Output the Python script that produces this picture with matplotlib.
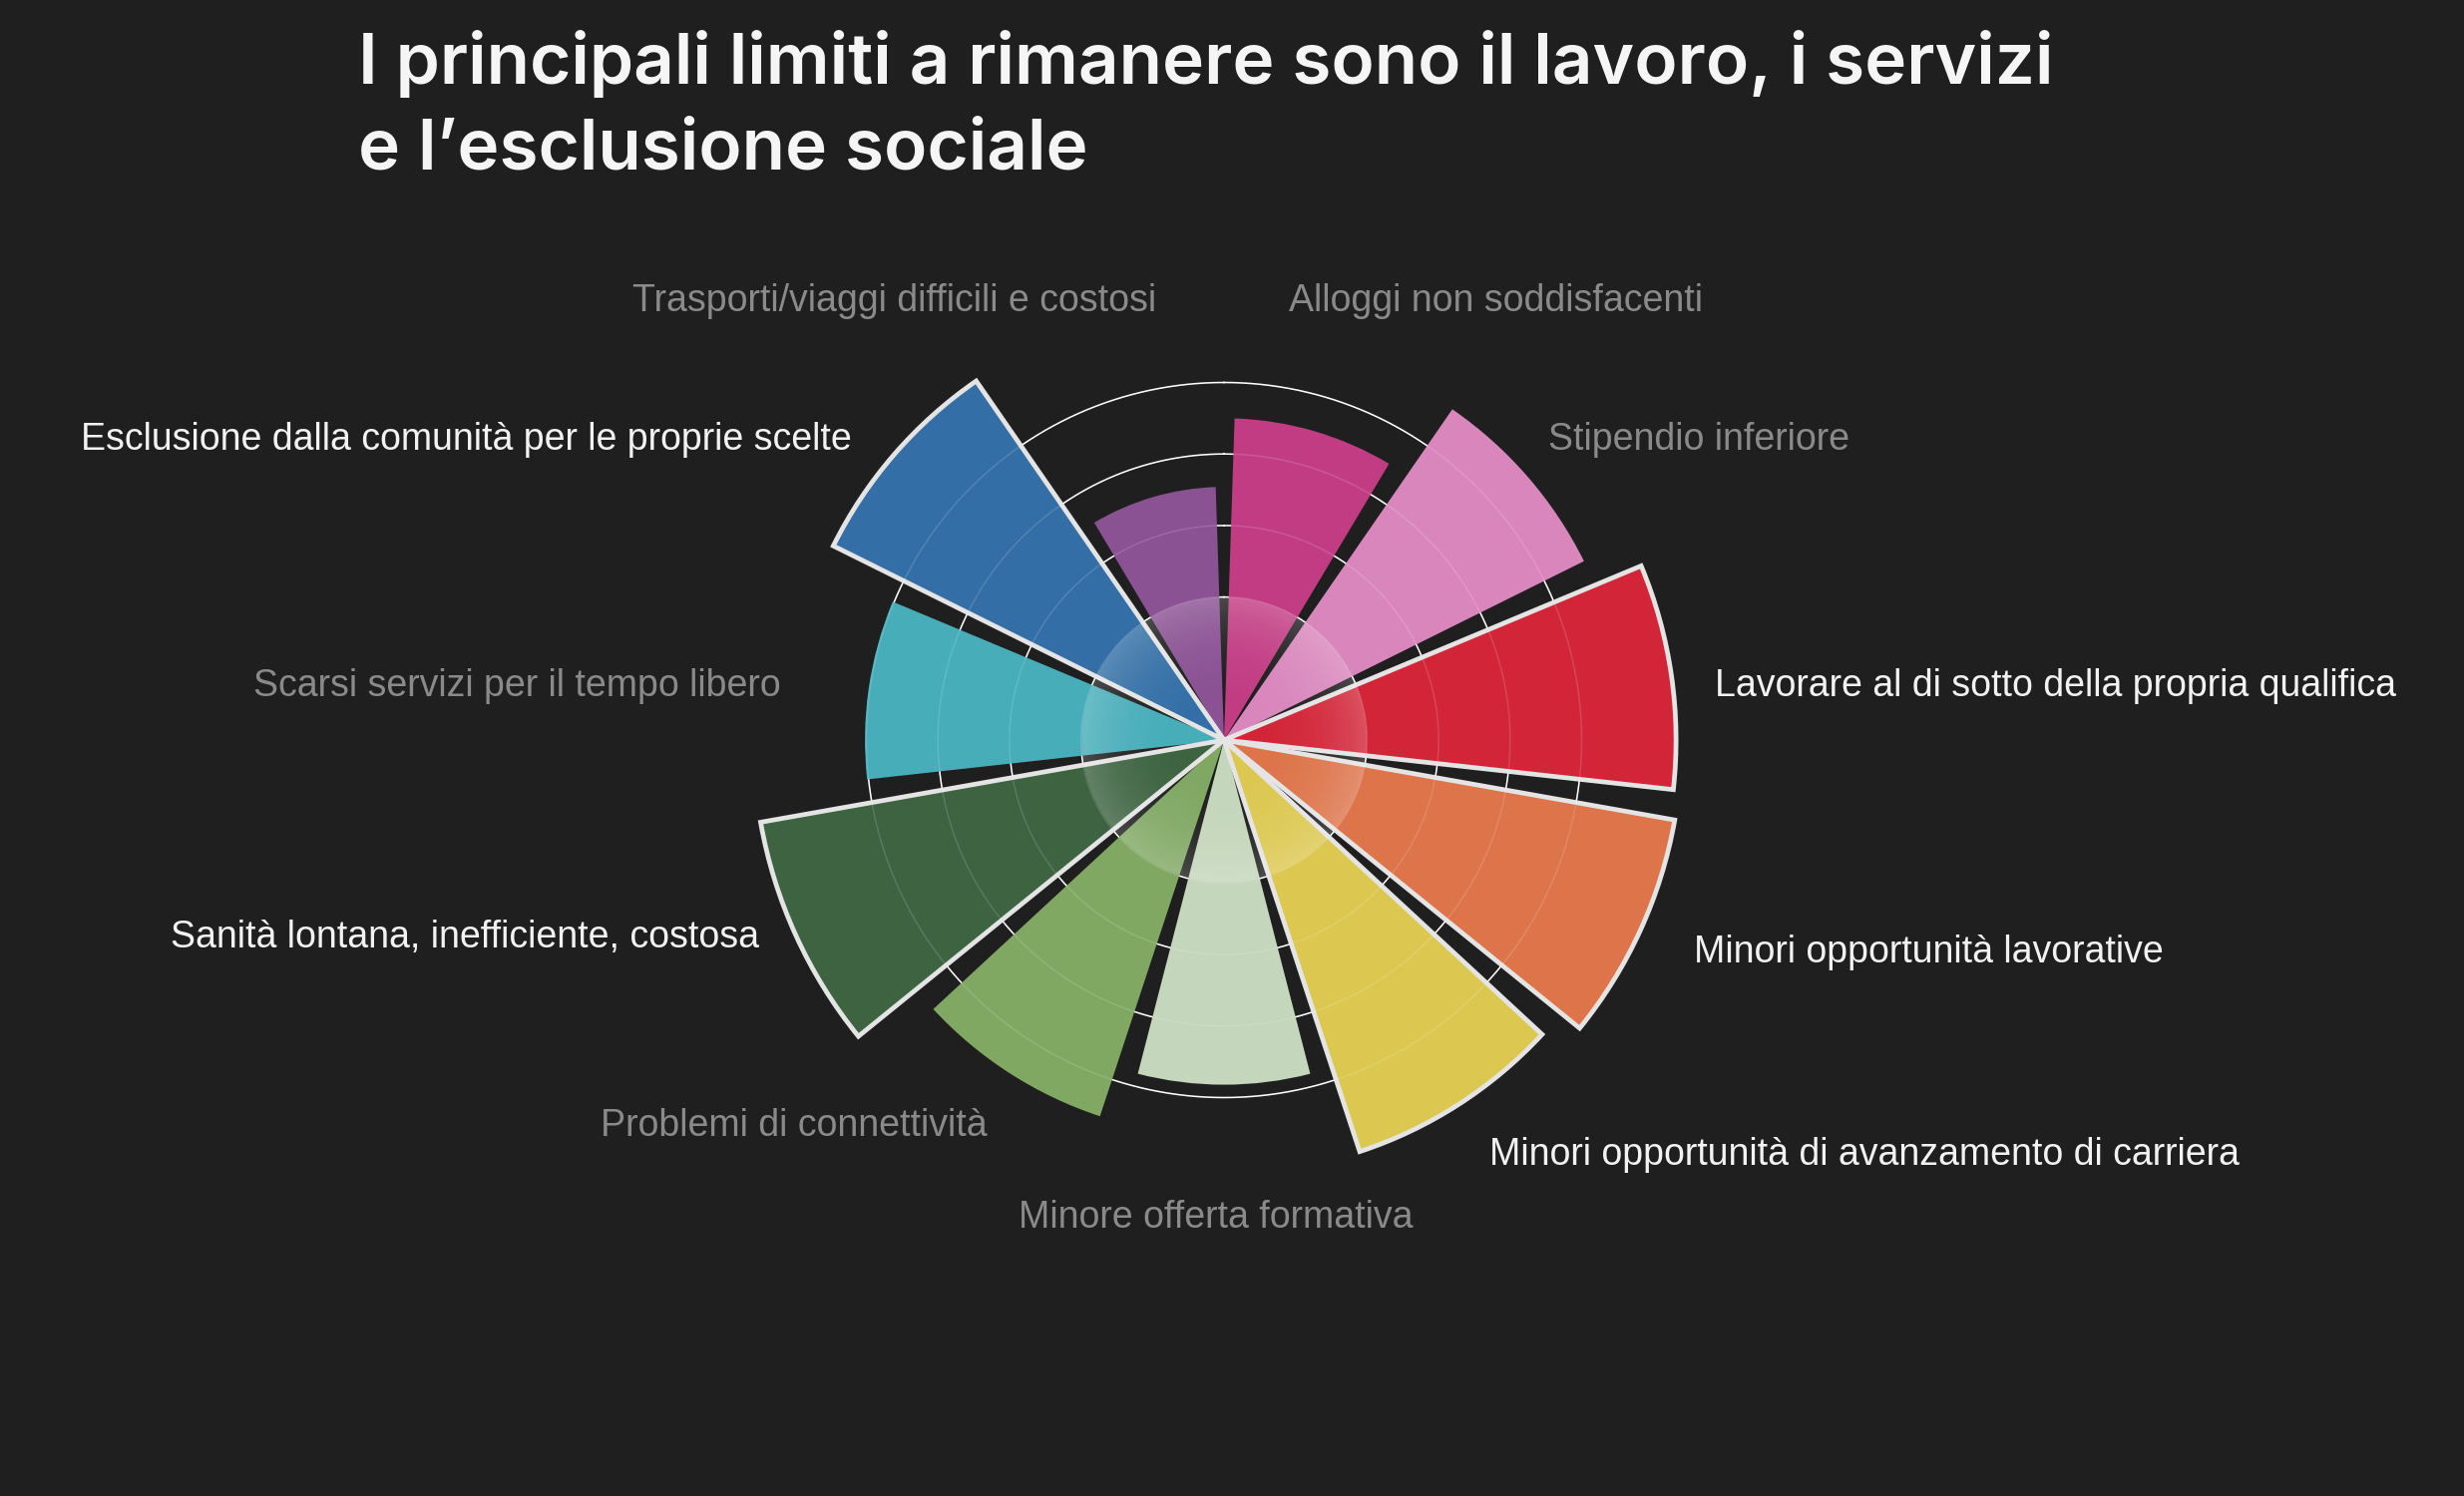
import numpy as np
import matplotlib
matplotlib.use("Agg")
import matplotlib.pyplot as plt
from matplotlib.patches import Circle

# ---------------- data ----------------
categories = [
    "Alloggi non soddisfacenti",
    "Stipendio inferiore",
    "Lavorare al di sotto della propria qualifica",
    "Minori opportunità lavorative",
    "Minori opportunità di avanzamento di carriera",
    "Minore offerta formativa",
    "Problemi di connettività",
    "Sanità lontana, inefficiente, costosa",
    "Scarsi servizi per il tempo libero",
    "Esclusione dalla comunità per le proprie scelte",
    "Trasporti/viaggi difficili e costosi",
]
values = [22.5, 28.1, 31.6, 32.0, 30.3, 24.1, 27.7, 32.9, 25.1, 30.5, 17.7]
highlighted = [False, False, True, True, True, False, False, True, False, True, False]
colors = ["#c23c84", "#d986bd", "#d22638", "#dd744a", "#dcc850", "#c4d6bb",
          "#80a863", "#3d6341", "#46adb9", "#336fa6", "#8a5193"]
grid_values = [10, 15, 20, 25]
title_lines = ["I principali limiti a rimanere sono il lavoro, i servizi",
               "e l\u2019esclusione sociale"]

# ---------------- layout ----------------
W, H = 2470, 1500
BG = "#1f1f1f"
fig = plt.figure(figsize=(W / 100, H / 100), dpi=100, facecolor=BG)

cx, cy = 1227, 742          # centre in pixels (from top-left)
rmax = 40.0
unit_px = 71.7 / 5.0        # pixels per value unit
R = rmax * unit_px
rect = [(cx - R) / W, (H - cy - R) / H, 2 * R / W, 2 * R / H]

ax = fig.add_axes(rect, projection="polar")
ax.set_facecolor("none")
ax.set_theta_zero_location("N")
ax.set_theta_direction(-1)
ax.set_ylim(0, rmax)
ax.grid(False)
ax.set_xticks([])
ax.set_yticks([])
ax.spines["polar"].set_visible(False)

n = len(values)
step = 2 * np.pi / n
thetas = (np.arange(n) + 0.5) * step
width = step * 0.885

# grid circles under bars
tt = np.linspace(0, 2 * np.pi, 721)
for g in grid_values:
    ax.plot(tt, np.full_like(tt, g), color="white", lw=1.1, zorder=1)

# plain bars
for th, v, c, h in zip(thetas, values, colors, highlighted):
    if not h:
        ax.bar(th, v, width=width, bottom=0, color=c, edgecolor="none", zorder=2)
# highlighted bars
for th, v, c, h in zip(thetas, values, colors, highlighted):
    if h:
        b = ax.bar(th, v, width=width, bottom=0, color=c, edgecolor="#e4e4e4",
                   linewidth=3.4, zorder=3)
        for p in b:
            p.set_joinstyle("miter")

# faint grid over bars
for g in grid_values:
    ax.plot(tt, np.full_like(tt, g), color="white", lw=1.1, alpha=0.14, zorder=4)

# central glow overlay
ax2 = fig.add_axes(rect)
ax2.set_xlim(-rmax, rmax)
ax2.set_ylim(-rmax, rmax)
ax2.axis("off")
ax2.patch.set_alpha(0)
gr = grid_values[0]
N = 400
xs = np.linspace(-gr, gr, N)
X, Y = np.meshgrid(xs, xs)
Rr = np.sqrt(X ** 2 + Y ** 2)
img = np.zeros((N, N, 4))
img[..., :3] = 1.0
img[..., 3] = np.where(Rr <= gr, 0.2 * (Rr / gr) ** 3, 0)
im = ax2.imshow(img, extent=[-gr, gr, -gr, gr], origin="lower", zorder=5,
                interpolation="bilinear")
im.set_clip_path(Circle((0, 0), gr, transform=ax2.transData))

# ---------------- labels ----------------
# (x, y-centre) in pixels of reference at 1568 width scale, alignment
s = W / 1568
label_pos = [(820, 190, "left"), (985, 278, "left"), (1091, 435, "left"),
             (1078, 604, "left"), (948, 733, "left"), (774, 773, "center"),
             (628, 715, "right"), (483, 595, "right"), (497, 435, "right"),
             (542, 278, "right"), (736, 190, "right")]
for name, h, (x, y, ha) in zip(categories, highlighted, label_pos):
    fig.text(x * s / W, 1 - (y + 8.3) * s / H, name, ha=ha, va="baseline",
             fontsize=27, color="#f2f2f2" if h else "#8a8a8a",
             family=["Liberation Sans", "DejaVu Sans"])

# ---------------- title ----------------
fig.text(359 / W, 1 - 83.5 / H, title_lines[0], ha="left", va="baseline",
         fontsize=51.2, color="#f5f5f5", fontweight="semibold",
         family=["Inter", "DejaVu Sans"])
fig.text(359 / W, 1 - 170 / H, title_lines[1], ha="left", va="baseline",
         fontsize=51.2, color="#f5f5f5", fontweight="semibold",
         family=["Inter", "DejaVu Sans"])

fig.savefig("out.png", dpi=100, facecolor=BG)
